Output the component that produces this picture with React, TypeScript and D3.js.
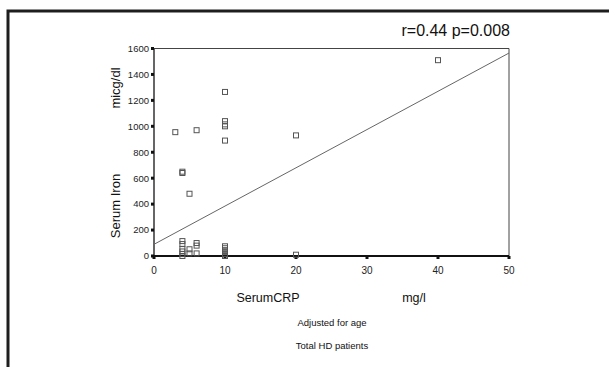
import React from "react";
import * as d3 from "d3";

const crpValues = [3, 6, 10, 10, 10, 10, 10, 20, 4, 4, 5, 40,
  4, 4, 4, 4, 4, 4, 5, 5, 6, 6, 6, 10, 10, 10, 10, 10, 10, 20];
const ironValues = [955, 970, 1265, 1040, 1015, 1000, 890, 930, 650, 640, 480, 1510,
  115, 92, 55, 35, 15, 0, 52, 20, 100, 80, 20, 75, 60, 45, 30, 15, 0, 10];
const xTicks = [0, 10, 20, 30, 40, 50];
const yTicks = [0, 200, 400, 600, 800, 1000, 1200, 1400, 1600];
const fitLine = [[0, 90], [50, 1565]];

const W = 609, H = 367;
const FONT = "'Liberation Sans', Arial, sans-serif";

export default function App() {
  const x = d3.scaleLinear().domain([0, 50]).range([154, 509]);
  const y = d3.scaleLinear().domain([0, 1600]).range([256, 48.5]);
  const line = d3.line<number[]>().x(d => x(d[0])).y(d => y(d[1]));
  const pts = crpValues.map((c, i) => [c, ironValues[i]]);
  return (
    <svg width={W} height={H} style={{ position: "absolute", left: 0, top: 0, background: "#fff" }}>
      <rect x={0} y={0} width={W} height={H} fill="#fff" />
      <path d={`M8,${H + 5} L8,11 L${W + 5},11`} fill="none" stroke="#1e1e1e" strokeWidth={3} />
      <text x={510} y={36} textAnchor="end" fontFamily={FONT} fontSize={16} fill="#111">r=0.44 p=0.008</text>
      <line x1={x(0)} x2={x(50)} y1={y(1600)} y2={y(1600)} stroke="#444" strokeWidth={1} />
      <line x1={x(50)} x2={x(50)} y1={y(1600)} y2={y(0)} stroke="#444" strokeWidth={1} />
      <line x1={x(0)} x2={x(0)} y1={y(1600)} y2={y(0)} stroke="#333" strokeWidth={1.5} />
      <line x1={x(0)} x2={x(50)} y1={y(0)} y2={y(0)} stroke="#111" strokeWidth={2} />
      {yTicks.map(t => (
        <g key={"y" + t}>
          <rect x={x(0) - 3} y={y(t) - 1.5} width={3} height={3} fill="#111" />
          <text x={x(0) - 5} y={y(t)} dy="0.35em" textAnchor="end" fontFamily={FONT} fontSize={9.5} fill="#222">{t}</text>
        </g>
      ))}
      {xTicks.map(t => (
        <g key={"x" + t}>
          <rect x={x(t) - 1.5} y={y(0)} width={3} height={3} fill="#111" />
          <text x={x(t)} y={y(0) + 18} textAnchor="middle" fontFamily={FONT} fontSize={10} fill="#222">{t}</text>
        </g>
      ))}
      <path d={line(fitLine as number[][]) || ""} fill="none" stroke="#666" strokeWidth={1} />
      {pts.map((p, i) => (
        <rect key={i} x={x(p[0]) - 2.5} y={y(p[1]) - 2.5} width={5} height={5} fill="none" stroke="#555" strokeWidth={1} />
      ))}
      <text transform="translate(120,206) rotate(-90)" textAnchor="middle" fontFamily={FONT} fontSize={13} fill="#111">Serum Iron</text>
      <text transform="translate(120,88) rotate(-90)" textAnchor="middle" fontFamily={FONT} fontSize={13} fill="#111">micg/dl</text>
      <text x={268} y={302} textAnchor="middle" fontFamily={FONT} fontSize={12.5} fill="#111">SerumCRP</text>
      <text x={414} y={302} textAnchor="middle" fontFamily={FONT} fontSize={12.5} fill="#111">mg/l</text>
      <text x={332} y={326} textAnchor="middle" fontFamily={FONT} fontSize={9.5} fill="#111">Adjusted for age</text>
      <text x={332} y={349} textAnchor="middle" fontFamily={FONT} fontSize={9.5} fill="#111">Total HD patients</text>
    </svg>
  );
}
